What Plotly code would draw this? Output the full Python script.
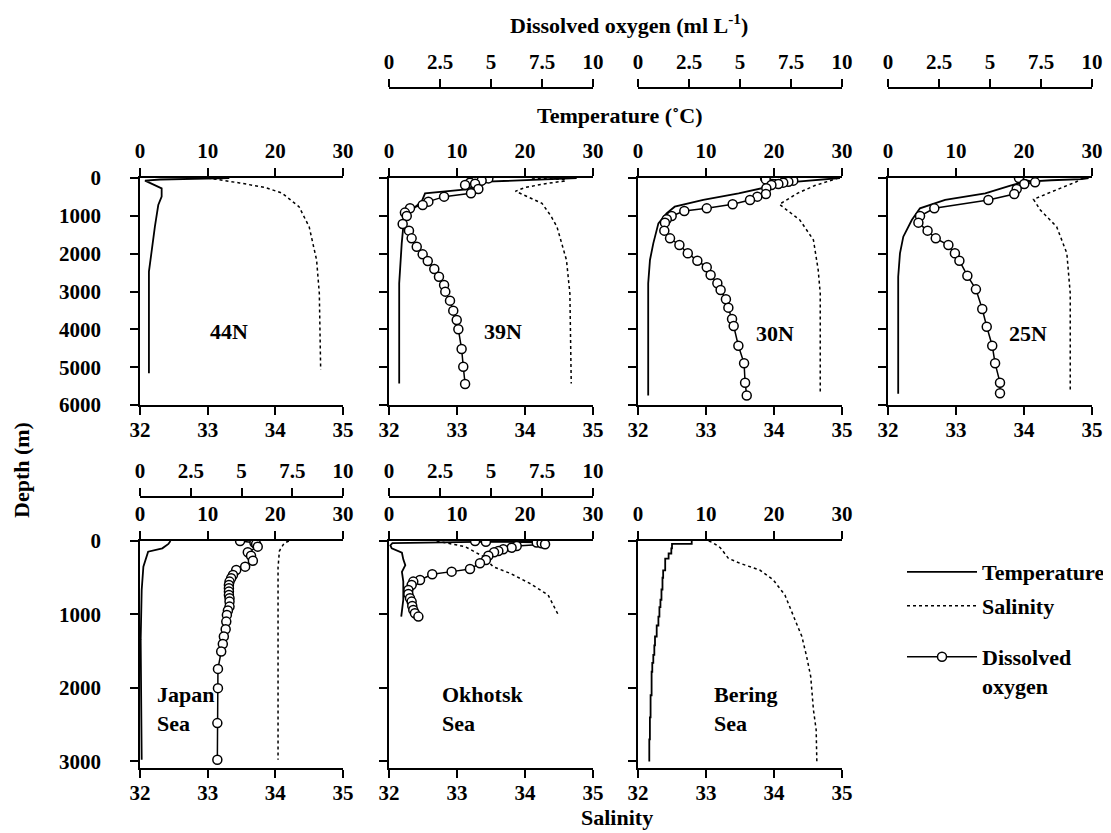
import plotly.graph_objects as go

# ---------------- data (depth in m) ----------------
# 44N
temp44_depth = [0, 20, 40, 70, 185, 273, 493, 714, 1287, 1991, 2476, 5163]
temp44 = [13.2, 8.0, 3.0, 0.74, 2.2, 3.2, 3.2, 2.7, 2.2, 1.7, 1.32, 1.32]
sal44_depth = [0, 50, 130, 250, 400, 760, 1290, 2170, 3050, 5070]
sal44 = [33.0, 33.2, 33.47, 33.85, 34.1, 34.35, 34.5, 34.61, 34.65, 34.67]

# 39N
temp39_depth = [0, 35, 97, 273, 405, 626, 846, 978, 1287, 1727, 2784, 5430]
temp39 = [27.6, 21.7, 14.4, 12.9, 5.3, 4.8, 3.3, 2.6, 2.1, 1.87, 1.5, 1.5]
sal39_depth = [0, 40, 80, 150, 250, 350, 670, 1000, 1290, 2170, 3050, 5430]
sal39 = [34.1, 34.6, 34.58, 34.3, 34.0, 33.86, 34.25, 34.38, 34.47, 34.61, 34.66, 34.68]
do39_depth = [0, 10, 70, 123, 150, 185, 290, 405, 493, 625, 713, 800, 915, 1004, 1216, 1392,
              1595, 1815, 2018, 2194, 2405, 2608, 2828, 3004, 3242, 3506, 3753, 4000, 4520, 4987, 5445]
do39 = [4.59, 4.87, 4.54, 3.97, 4.22, 3.73, 4.38, 4.02, 2.70, 1.93, 1.65, 1.03, 0.78, 0.87, 0.67, 0.98,
        1.11, 1.36, 1.65, 1.90, 2.22, 2.45, 2.70, 2.76, 2.99, 3.15, 3.32, 3.40, 3.56, 3.64, 3.73]

# 30N
temp30_depth = [0, 40, 100, 185, 300, 405, 581, 758, 934, 1198, 1727, 2167, 2784, 5750]
temp30 = [29.7, 27.0, 23.0, 20.4, 17.5, 14.8, 9.6, 5.4, 4.2, 3.0, 2.25, 1.76, 1.5, 1.5]
sal30_depth = [0, 70, 200, 400, 696, 1110, 1639, 2432, 3050, 5690]
sal30 = [34.95, 34.82, 34.6, 34.35, 34.08, 34.38, 34.58, 34.65, 34.68, 34.68]
do30_depth = [0, 35, 70, 100, 123, 159, 185, 273, 423, 493, 581, 696, 802, 872, 1004, 1092, 1180,
              1392, 1595, 1771, 1991, 2185, 2361, 2564, 2784, 2960, 3207, 3427, 3727, 3912, 4432,
              4898, 5410, 5750]
do30 = [6.23, 6.26, 7.61, 7.37, 7.12, 6.88, 6.54, 6.29, 6.27, 5.85, 5.49, 4.64, 3.37, 2.27, 1.65,
        1.41, 1.32, 1.29, 1.57, 2.03, 2.44, 2.91, 3.37, 3.56, 3.89, 4.05, 4.31, 4.43, 4.61, 4.69,
        4.92, 5.20, 5.25, 5.33]

# 25N
temp25_depth = [0, 30, 60, 100, 200, 300, 405, 581, 802, 1110, 1551, 1991, 2608, 5700]
temp25 = [29.5, 28.5, 24.0, 20.0, 18.0, 16.3, 14.3, 8.4, 4.7, 3.5, 2.25, 1.76, 1.5, 1.5]
sal25_depth = [0, 100, 273, 564, 846, 1287, 1991, 3050, 5630]
sal25 = [34.87, 34.77, 34.53, 34.14, 34.24, 34.48, 34.63, 34.68, 34.68]
do25_depth = [0, 115, 159, 291, 423, 581, 802, 1004, 1180, 1392, 1595, 1771, 1991, 2185, 2582,
              2943, 3462, 3930, 4432, 4898, 5410, 5690]
do25 = [6.42, 7.21, 6.68, 6.31, 6.19, 4.92, 2.27, 1.57, 1.49, 1.94, 2.34, 2.96, 3.28, 3.50, 3.89,
        4.31, 4.62, 4.84, 5.11, 5.25, 5.49, 5.49]

# Japan Sea
tempJ_depth = [0, 40, 100, 145, 349, 666, 1346, 2978]
tempJ = [4.5, 4.2, 3.3, 1.2, 0.5, 0.25, 0.1, 0.25]
salJ_depth = [0, 30, 136, 363, 2978]
salJ = [34.2, 34.13, 34.06, 34.04, 34.04]
doJ_depth = [0, 23, 41, 77, 154, 200, 268, 349, 395, 463, 508, 553, 599, 644, 689, 735, 780, 825,
             893, 947, 1006, 1097, 1201, 1301, 1401, 1505, 1741, 2003, 2479, 2978]
doJ = [4.93, 5.64, 5.72, 5.80, 5.31, 5.47, 5.56, 5.18, 4.74, 4.58, 4.49, 4.41, 4.38, 4.38, 4.38,
       4.38, 4.41, 4.41, 4.41, 4.33, 4.28, 4.25, 4.22, 4.13, 4.08, 4.00, 3.84, 3.84, 3.81, 3.81]

# Okhotsk Sea
tempO_depth = [0, 8, 15, 20, 30, 60, 100, 160, 250, 330, 420, 550, 800, 1030]
tempO = [21.5, 15.0, 8.0, 2.5, 0.5, 0.2, 0.4, 1.9, 2.1, 2.4, 1.9, 2.1, 2.1, 1.8]
salO_depth = [0, 77, 213, 349, 440, 576, 735, 1006]
salO = [32.70, 33.12, 33.39, 33.53, 33.78, 34.07, 34.34, 34.49]
doO_depth = [0, 10, 20, 30, 45, 68, 91, 113, 136, 154, 200, 258, 304, 381, 417, 453, 530, 553, 599,
             666, 721, 780, 825, 884, 938, 984, 1029]
doO = [4.22, 4.75, 7.24, 7.48, 7.65, 6.26, 6.01, 5.60, 5.36, 5.15, 4.87, 4.75, 4.46, 3.97, 3.07,
       2.12, 1.52, 1.19, 1.11, 0.95, 0.95, 1.03, 1.11, 1.14, 1.19, 1.27, 1.44]

# Bering Sea
tempB_depth = [0, 40, 100, 170, 240, 400, 500, 660, 800, 900, 1030, 1150, 1300, 1420, 1550, 1660,
               1780, 2100, 2400, 2700, 3000]
tempB = [7.9, 5.0, 4.9, 4.5, 4.0, 3.7, 3.6, 3.45, 3.3, 3.15, 3.0, 2.75, 2.5, 2.4, 2.25, 2.1, 2.0,
         1.85, 1.75, 1.66, 1.66]
salB_depth = [0, 23, 91, 236, 304, 395, 530, 735, 1075, 1301, 1573, 1845, 2298, 2570, 3001]
salB = [33.04, 33.1, 33.21, 33.33, 33.5, 33.79, 33.99, 34.16, 34.31, 34.41, 34.48, 34.54, 34.58,
        34.62, 34.63]

station_names = ["44N", "39N", "30N", "25N", "Japan<br>Sea", "Okhotsk<br>Sea", "Bering<br>Sea"]
temp_ticks = [0, 10, 20, 30]
sal_ticks = [32, 33, 34, 35]
do_ticks = [0, 2.5, 5, 7.5, 10]
do_ticktext = ["0", "2.5", "5", "7.5", "10"]
depth_ticks_top = [0, 1000, 2000, 3000, 4000, 5000, 6000]
depth_ticks_bottom = [0, 1000, 2000, 3000]

# ---------------- layout geometry (page pixels) ----------------
W, H = 1111, 833
OFF = 8  # the page body offsets the figure by 8 px
FONT = "Times New Roman, Liberation Serif, Times, serif"
FS_TICK = 21
FS_TEXT = 22


def fx(p):
    return (p - OFF) / W


def fy(p):
    return 1 - (p - OFF) / H


cols = [(140, 343), (389, 593), (638, 842), (888, 1092)]
top_row = (178, 405)
bot_row = (541, 768)

panels = [
    dict(col=cols[0], row=top_row, rng=6000, ticks=depth_ticks_top, T=(temp44, temp44_depth),
         S=(sal44, sal44_depth), DO=None, lab=(13.2, 4070, "center"), doaxis=None, ylab=True),
    dict(col=cols[1], row=top_row, rng=6000, ticks=depth_ticks_top, T=(temp39, temp39_depth),
         S=(sal39, sal39_depth), DO=(do39, do39_depth), lab=(16.8, 4070, "center"), doaxis=88, ylab=False),
    dict(col=cols[2], row=top_row, rng=6000, ticks=depth_ticks_top, T=(temp30, temp30_depth),
         S=(sal30, sal30_depth), DO=(do30, do30_depth), lab=(20.1, 4100, "center"), doaxis=88, ylab=False),
    dict(col=cols[3], row=top_row, rng=6000, ticks=depth_ticks_top, T=(temp25, temp25_depth),
         S=(sal25, sal25_depth), DO=(do25, do25_depth), lab=(20.6, 4100, "center"), doaxis=88, ylab=False),
    dict(col=cols[0], row=bot_row, rng=3090, ticks=depth_ticks_bottom, T=(tempJ, tempJ_depth),
         S=(salJ, salJ_depth), DO=(doJ, doJ_depth), lab=(2.2, 2290, "left"), doaxis=497, ylab=True),
    dict(col=cols[1], row=bot_row, rng=3090, ticks=depth_ticks_bottom, T=(tempO, tempO_depth),
         S=(salO, salO_depth), DO=(doO, doO_depth), lab=(7.5, 2290, "left"), doaxis=497, ylab=False),
    dict(col=cols[2], row=bot_row, rng=3090, ticks=depth_ticks_bottom, T=(tempB, tempB_depth),
         S=(salB, salB_depth), DO=None, lab=(10.9, 2290, "left"), doaxis=None, ylab=False, step=True),
]

tickfont = dict(family=FONT, size=FS_TICK, color="black", weight="bold")
common = dict(showline=True, linecolor="black", linewidth=1.5, ticks="outside", ticklen=8,
              tickwidth=1.5, tickcolor="black", showgrid=False, zeroline=False,
              tickfont=tickfont, fixedrange=True, automargin=False)


def key(prefix, n):
    return prefix + "axis" + ("" if n == 1 else str(n))


def ref(prefix, n):
    return prefix + ("" if n == 1 else str(n))


fig = go.Figure()
layout = {}
annotations = []
N = len(panels)
shown = {"T": False, "S": False, "DO": False}

for i, p in enumerate(panels):
    k = i + 1
    tk, sk, dk = k, k + N, k + 2 * N
    yr = ref("y", k)
    xdom = [fx(p["col"][0]), fx(p["col"][1])]
    ydom = [fy(p["row"][1]), fy(p["row"][0])]

    layout[key("y", k)] = dict(common, domain=ydom, anchor=ref("x", tk), range=[p["rng"], 0],
                               tickvals=p["ticks"], showticklabels=p["ylab"],
                               ticklabelstandoff=25)
    layout[key("x", tk)] = dict(common, domain=xdom, anchor=yr, side="top", range=[0, 30],
                                tickvals=temp_ticks, ticklabelstandoff=2)
    layout[key("x", sk)] = dict(common, domain=xdom, anchor=yr, side="bottom", range=[32, 35],
                                tickvals=sal_ticks, overlaying=ref("x", tk), ticklabelstandoff=-3)
    if p["doaxis"] is not None:
        layout[key("x", dk)] = dict(common, domain=xdom, anchor="free", position=fy(p["doaxis"]),
                                    side="top", range=[0, 10], tickvals=do_ticks,
                                    ticktext=do_ticktext, overlaying=ref("x", tk),
                                    ticklabelstandoff=2)

    t_vals, t_dep = p["T"]
    fig.add_trace(go.Scatter(
        x=t_vals, y=t_dep, xaxis=ref("x", tk), yaxis=yr, mode="lines", name="Temperature",
        line=dict(color="black", width=1.8, shape="vh" if p.get("step") else "linear"),
        showlegend=not shown["T"], legend="legend", hoverinfo="skip"))
    shown["T"] = True
    s_vals, s_dep = p["S"]
    fig.add_trace(go.Scatter(
        x=s_vals, y=s_dep, xaxis=ref("x", sk), yaxis=yr, mode="lines", name="Salinity",
        line=dict(color="black", width=1.5, dash="dot"),
        showlegend=not shown["S"], legend="legend2", hoverinfo="skip"))
    shown["S"] = True
    if p["DO"] is not None:
        d_vals, d_dep = p["DO"]
        fig.add_trace(go.Scatter(
            x=d_vals, y=d_dep, xaxis=ref("x", dk), yaxis=yr, mode="lines+markers",
            name="Dissolved<br>oxygen",
            line=dict(color="black", width=1.5),
            marker=dict(symbol="circle", size=9, color="white", line=dict(color="black", width=1.5)),
            showlegend=not shown["DO"], legend="legend3", hoverinfo="skip"))
        shown["DO"] = True

    lx, ly, al = p["lab"]
    annotations.append(dict(x=lx, y=ly, xref=ref("x", tk), yref=yr, text=station_names[i],
                            showarrow=False, align="left", yanchor="middle",
                            xanchor="center" if al == "center" else "left",
                            font=dict(family=FONT, size=FS_TEXT, color="black", weight="bold")))

titlefont = dict(family=FONT, size=FS_TEXT, color="black", weight="bold")
annotations += [
    dict(x=fx(629), y=fy(24), xref="paper", yref="paper", showarrow=False,
         xanchor="center", yanchor="middle",
         text="Dissolved oxygen (ml L<sup>-1</sup>)", font=titlefont),
    dict(x=fx(620), y=fy(115), xref="paper", yref="paper", showarrow=False,
         xanchor="center", yanchor="middle",
         text="Temperature (˚C)", font=titlefont),
    dict(x=fx(21), y=fy(470), xref="paper", yref="paper", showarrow=False,
         xanchor="center", yanchor="middle",
         text="Depth (m)", textangle=-90, font=titlefont),
    dict(x=fx(617), y=fy(817), xref="paper", yref="paper", showarrow=False,
         xanchor="center", yanchor="middle",
         text="Salinity", font=titlefont),
]

legfont = dict(family=FONT, size=FS_TEXT, color="black", weight="bold")
legcommon = dict(xanchor="left", yanchor="top", font=legfont, bgcolor="rgba(0,0,0,0)",
                 itemwidth=70, valign="top")

layout.update(
    width=W, height=H, autosize=False,
    margin=dict(l=0, r=0, t=0, b=0, pad=0, autoexpand=False),
    paper_bgcolor="white", plot_bgcolor="rgba(0,0,0,0)",
    font=dict(family=FONT, size=FS_TICK, color="black"),
    annotations=annotations,
    showlegend=True,
    legend=dict(legcommon, x=fx(902), y=fy(551)),
    legend2=dict(legcommon, x=fx(902), y=fy(585)),
    legend3=dict(legcommon, x=fx(902), y=fy(636)),
)
fig.update_layout(layout)
fig.write_html("out.html")
